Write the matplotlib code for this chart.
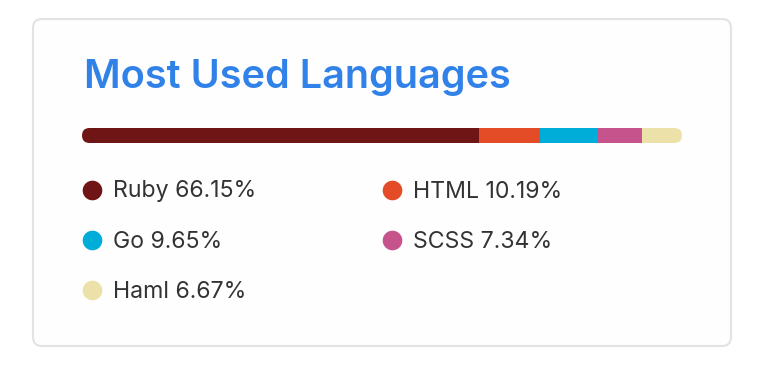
import matplotlib
matplotlib.use("Agg")
import matplotlib.pyplot as plt
from matplotlib.patches import FancyBboxPatch

languages = ["Ruby", "HTML", "Go", "SCSS", "Haml"]
percents = [66.15, 10.19, 9.65, 7.34, 6.67]
colors = ["#701516", "#e34c26", "#00add8", "#c6538c", "#ece2a9"]
title = "Most Used Languages"

W, H = 768, 366
fig = plt.figure(figsize=(W / 100, H / 100), dpi=100)
fig.patch.set_facecolor("white")

# background axes in pixel coords (y down)
bg = fig.add_axes([0, 0, 1, 1])
bg.set_xlim(0, W)
bg.set_ylim(H, 0)
bg.axis("off")

card = FancyBboxPatch((33, 19), 698, 327, boxstyle="round,pad=0,rounding_size=9",
                      facecolor="#fffefe", edgecolor="#e4e2e2", linewidth=1.5)
bg.add_patch(card)

renderer = fig.canvas.get_renderer()


def fit(t, target):
    # scale font so the text spans the target pixel width
    w = t.get_window_extent(renderer).width
    t.set_fontsize(t.get_fontsize() * target / w)


tt = bg.text(84, 88, title, fontsize=28, fontweight="semibold", color="#3182e8",
             family="Inter", va="baseline", ha="left")
fit(tt, 428)

# stacked progress bar
bx, by, bw, bh = 82, 128, 600, 15
axb = fig.add_axes([bx / W, 1 - (by + bh) / H, bw / W, bh / H])
axb.set_xlim(0, 100)
axb.set_ylim(0, 1)
axb.axis("off")
clip = FancyBboxPatch((0, 0), 100, 1, boxstyle="round,pad=0,rounding_size=1.25",
                      mutation_aspect=bw / 100 / bh, facecolor="none", edgecolor="none",
                      transform=axb.transData)
axb.add_patch(clip)
left = 0
for p, c in zip(percents, colors):
    b = axb.barh(0.5, p, left=left, height=1, color=c, linewidth=0)
    for r in b:
        r.set_clip_path(clip)
    left += p

# legend
col_x = [92, 392]
row_y = [190, 240, 290]
fs = None
for i, (name, p, c) in enumerate(zip(languages, percents, colors)):
    cx = col_x[i % 2]
    cy = row_y[i // 2]
    bg.scatter([cx], [cy], s=200, color=c, linewidths=0)
    t = bg.text(cx + 21, cy + 7.5, f"{name} {p:.2f}%", fontsize=15, color="#333333",
                family="Inter", va="baseline", ha="left")
    if fs is None:
        fit(t, 144)
        fs = t.get_fontsize()
    else:
        t.set_fontsize(fs)

fig.savefig("out.png", dpi=100)
